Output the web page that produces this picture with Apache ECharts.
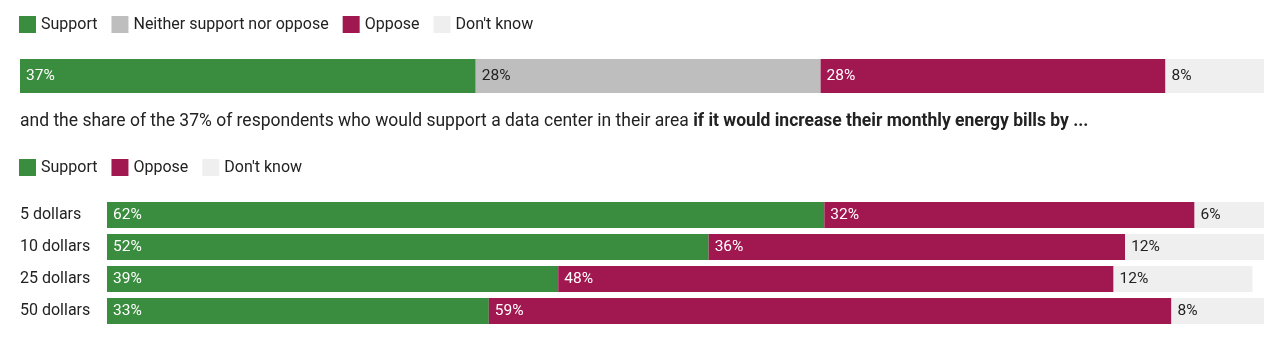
<!DOCTYPE html>
<html>
<head>
<meta charset="utf-8">
<script src="https://cdn.jsdelivr.net/npm/echarts@6/dist/echarts.min.js"></script>
<style>
html,body{margin:0;padding:0;background:#fff;}
#c{width:1280px;height:340px;}
</style>
</head>
<body>
<div id="c"></div>
<script>
// Top chart: overall attitude
const topCategories = ['All'];
const topSupport = [37];
const topNeither = [28];
const topOppose = [28];
const topDontKnow = [8];

// Bottom chart: among the 37% supporters, if energy bills increase by ...
const bottomCategories = ['5 dollars', '10 dollars', '25 dollars', '50 dollars'];
const bottomSupport = [62, 52, 39, 33];
const bottomOppose = [32, 36, 48, 59];
const bottomDontKnow = [6, 12, 12, 8];

const introText = 'and the share of the 37% of respondents who would support a data center in their area ';
const boldText = 'if it would increase their monthly energy bills by ...';

const C = {
  support: '#3a8c3e',
  neither: '#bebebe',
  oppose: '#a11851',
  dk: '#efefef',
  text: '#222222'
};
const FONT = 'Roboto, "Noto Sans", sans-serif';
const FS = 15.5;
const FS_LEGEND = 16;
const FS_TITLE = 17.5;

function seg(name, data, color, stack, axis, labelColor) {
  return {
    name: name,
    type: 'bar',
    stack: stack,
    xAxisIndex: axis,
    yAxisIndex: axis,
    data: data,
    barWidth: axis === 0 ? 34 : 26,
    itemStyle: { color: color },
    emphasis: { disabled: true },
    label: {
      show: true,
      position: 'insideLeft',
      distance: 6,
      formatter: '{c}%',
      color: labelColor,
      fontFamily: FONT,
      fontSize: FS
    }
  };
}

const legendBase = {
  left: 19,
  padding: 0,
  itemWidth: 17, itemHeight: 17, itemGap: 14,
  icon: 'rect',
  selectedMode: false,
  textStyle: { fontFamily: FONT, fontSize: FS_LEGEND, color: C.text }
};

const chart = echarts.init(document.getElementById('c'), null, { renderer: 'canvas' });
chart.setOption({
  animation: false,
  backgroundColor: '#ffffff',
  textStyle: { fontFamily: FONT },
  title: {
    left: 20,
    top: 112,
    padding: 0,
    text: '{n|' + introText + '}{b|' + boldText + '}',
    textStyle: {
      rich: {
        n: { fontFamily: FONT, fontSize: FS_TITLE, color: C.text, fontWeight: 'normal', lineHeight: 20 },
        b: { fontFamily: FONT, fontSize: FS_TITLE, color: C.text, fontWeight: 'bold', lineHeight: 20 }
      }
    }
  },
  legend: [
    Object.assign({}, legendBase, {
      top: 16,
      data: ['Support', 'Neither support nor oppose', 'Oppose', "Don't know"]
    }),
    Object.assign({}, legendBase, {
      top: 159,
      data: ['Support', 'Oppose', "Don't know"]
    })
  ],
  grid: [
    { left: 20, right: 16, top: 59, height: 34, outerBoundsMode: 'none' },
    { left: 107, right: 16, top: 199, height: 128, outerBoundsMode: 'none' }
  ],
  xAxis: [
    { type: 'value', gridIndex: 0, min: 0, max: 101, show: false },
    { type: 'value', gridIndex: 1, min: 0, max: 100, show: false }
  ],
  yAxis: [
    { type: 'category', gridIndex: 0, data: topCategories, show: false },
    {
      type: 'category', gridIndex: 1, data: bottomCategories, inverse: true,
      axisLine: { show: false }, axisTick: { show: false }, splitLine: { show: false },
      axisLabel: { align: 'left', margin: 87, fontFamily: FONT, fontSize: FS_LEGEND, color: C.text }
    }
  ],
  series: [
    seg('Support', topSupport, C.support, 'top', 0, '#ffffff'),
    seg('Neither support nor oppose', topNeither, C.neither, 'top', 0, C.text),
    seg('Oppose', topOppose, C.oppose, 'top', 0, '#ffffff'),
    seg("Don't know", topDontKnow, C.dk, 'top', 0, C.text),
    seg('Support', bottomSupport, C.support, 'bot', 1, '#ffffff'),
    seg('Oppose', bottomOppose, C.oppose, 'bot', 1, '#ffffff'),
    seg("Don't know", bottomDontKnow, C.dk, 'bot', 1, C.text)
  ]
});
</script>
</body>
</html>
